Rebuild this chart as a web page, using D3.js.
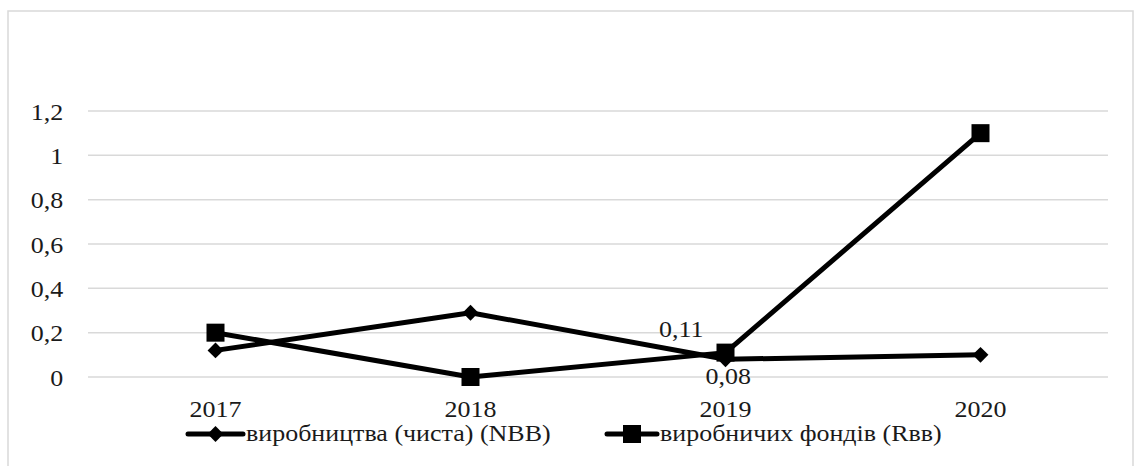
<!DOCTYPE html>
<html><head><meta charset="utf-8">
<script src="https://cdn.jsdelivr.net/npm/d3@7"></script>
<style>body{margin:0;background:#fff}svg{display:block}</style>
</head><body><svg id="c" width="1138" height="466"></svg>
<script>
const categories = ["2017","2018","2019","2020"];
const seriesNames = ["виробництва (чиста) (NBB)","виробничих фондів (Rвв)"];
const nbbValues = [0.12, 0.29, 0.08, 0.10];
const rvvValues = [0.20, 0.00, 0.11, 1.10];
const yTicks = [0, 0.2, 0.4, 0.6, 0.8, 1, 1.2];
const dataLabels = [{series:1, index:2, text:"0,11"},{series:0, index:2, text:"0,08"}];

const svg = d3.select("#c");
const FONT = '"Liberation Serif"';
const fs = "23px";
const SX = 1.13;
const styleText = sel => sel.style("font-family",FONT).style("font-size",fs).style("fill","#1a1a1a");

svg.append("rect").attr("x",8).attr("y",11).attr("width",1125).attr("height",470)
  .attr("fill","#fff").attr("stroke","#d9d9d9").attr("stroke-width",1.5);

const x = d3.scaleBand().domain(categories).range([88,1108]).padding(0);
const y = d3.scaleLinear().domain([0,1.2]).range([377,111]);
const fmt = d => String(d).replace(".",",");

svg.append("g").selectAll("line").data(yTicks).join("line")
  .attr("x1",88).attr("x2",1108).attr("y1",d=>y(d)).attr("y2",d=>y(d))
  .attr("stroke","#d9d9d9").attr("stroke-width",1.5);

const yAxis = svg.append("g").attr("transform","translate(70,0)")
  .call(d3.axisLeft(y).tickValues(yTicks).tickFormat(fmt).tickSize(0).tickPadding(6));
yAxis.attr("font-family",null).attr("font-size",null);
yAxis.select(".domain").remove();
yAxis.selectAll("text").call(styleText).attr("dy","0.35em").attr("transform",`scale(${SX},1)`);

const xAxis = svg.append("g").attr("transform","translate(0,400)")
  .call(d3.axisBottom(x).tickSize(0).tickPadding(0));
xAxis.attr("font-family",null).attr("font-size",null);
xAxis.select(".domain").remove();
xAxis.selectAll("text").call(styleText).attr("dy","0.76em").attr("transform",`scale(${SX},1)`);

const cx = c => x(c) + x.bandwidth()/2;
const line = d3.line().x((d,i)=>cx(categories[i])).y(d=>y(d));
const series = [nbbValues, rvvValues];
series.forEach(vals=>{
  svg.append("path").datum(vals).attr("d",line).attr("fill","none")
    .attr("stroke","#000").attr("stroke-width",5).attr("stroke-linejoin","round");
});
const diamond = d3.symbol().type(d3.symbolDiamond2).size(160);
svg.append("g").selectAll("path").data(nbbValues).join("path")
  .attr("d",diamond).attr("transform",(d,i)=>`translate(${cx(categories[i])},${y(d)})`).attr("fill","#000");
svg.append("g").selectAll("rect").data(rvvValues).join("rect")
  .attr("x",(d,i)=>cx(categories[i])-9).attr("y",d=>y(d)-9).attr("width",18).attr("height",18).attr("fill","#000");

dataLabels.forEach(l=>{
  const v = series[l.series][l.index];
  const px = cx(categories[l.index]), py = y(v);
  const t = svg.append("text").call(styleText).text(l.text);
  if(l.series===1) t.attr("text-anchor","end").attr("transform",`translate(${px-22},${py-16}) scale(${SX},1)`);
  else t.attr("text-anchor","start").attr("transform",`translate(${px-20},${py+25}) scale(${SX},1)`);
});

const lg = [{x1:188,x2:243,name:seriesNames[0],type:"d"},{x1:607,x2:657,name:seriesNames[1],type:"s"}];
lg.forEach(l=>{
  svg.append("line").attr("x1",l.x1).attr("x2",l.x2).attr("y1",434).attr("y2",434).attr("stroke","#000").attr("stroke-width",5).attr("stroke-linecap","round");
  const m=(l.x1+l.x2)/2;
  if(l.type==="d") svg.append("path").attr("d",diamond).attr("transform",`translate(${m},434)`).attr("fill","#000");
  else svg.append("rect").attr("x",m-9).attr("y",425).attr("width",18).attr("height",18).attr("fill","#000");
  svg.append("text").call(styleText).attr("transform",`translate(${l.x2+3},441) scale(${SX},1)`).text(l.name);
});
</script></body></html>
